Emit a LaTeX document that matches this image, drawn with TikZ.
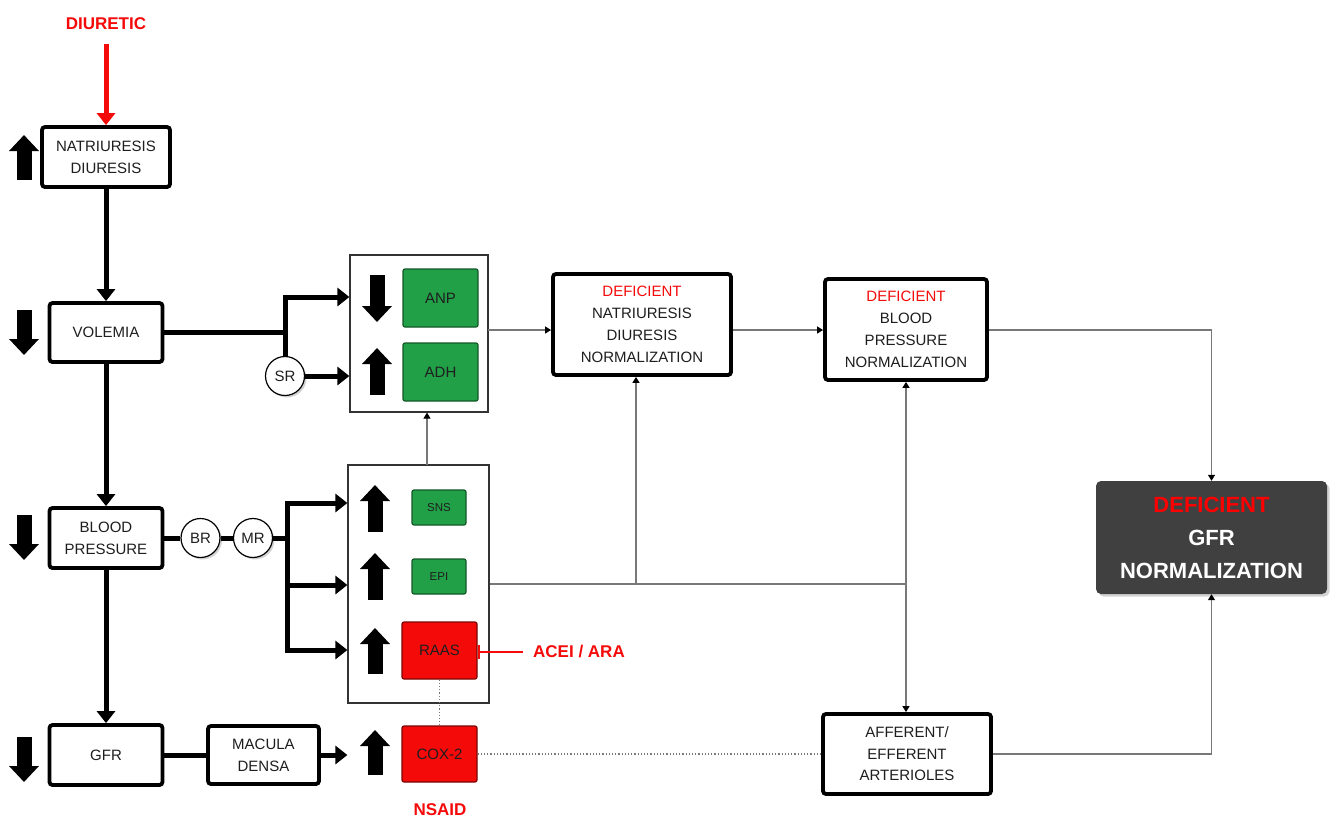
\documentclass[tikz,border=0pt]{standalone}
\usepackage{fontspec}
\setmainfont{Liberation Sans}
\usetikzlibrary{positioning,arrows.meta,shadows}

\definecolor{txt}{RGB}{30,30,30}
\definecolor{grn}{RGB}{34,160,72}
\definecolor{rd}{RGB}{245,10,10}
\definecolor{drk}{RGB}{64,64,64}
\definecolor{lnk}{RGB}{120,120,120}

\begin{document}
\begin{tikzpicture}[x=1pt,y=-1pt,font=\fontsize{15}{22}\selectfont,
  box/.style={draw=black,line width=3.8pt,rounded corners=3pt,fill=white,align=center,inner sep=0pt,text=txt},
  grpbox/.style={draw=black!80,line width=1.2pt,inner sep=0pt},
  gbox/.style={draw=grn!55!black,line width=1.2pt,rounded corners=2pt,fill=grn,inner sep=0pt,text=txt},
  rbox/.style={draw=rd!50!black,line width=1.2pt,rounded corners=2pt,fill=rd,inner sep=0pt,text=txt},
  circ/.style={circle,draw=black,line width=1.2pt,fill=white,minimum size=39pt,inner sep=0pt,text=txt,
    drop shadow={shadow xshift=2pt,shadow yshift=-2pt,opacity=0.35}},
  redlbl/.style={text=rd,font=\fontsize{17}{20}\selectfont\bfseries,inner sep=0pt},
  thk/.style={line width=5pt},
  thkarr/.style={line width=5pt,-{Triangle[width=18pt,length=12pt]}},
  blk/.style={line width=15pt,-{Triangle[width=29pt,length=16pt]}},
  thinln/.style={draw=lnk,line width=1.2pt},
  thinarr/.style={draw=lnk,line width=1.2pt,-{Triangle[width=7pt,length=6pt,color=black]}},
  dotln/.style={draw=lnk,line width=1.2pt,dotted}]
  \useasboundingbox (0,0) rectangle (1334,820);

  % left column
  \node[redlbl] (diur) at (106,24) {DIURETIC};
  \node[box,minimum width=128pt,minimum height=60pt] (natr) at (106,157) {NATRIURESIS\\DIURESIS};
  \node[box,minimum width=113pt,minimum height=59pt] (vol) at (106,332.5) {VOLEMIA};
  \node[box,minimum width=113pt,minimum height=60pt] (bp) at (106,538) {BLOOD\\PRESSURE};
  \node[box,minimum width=113pt,minimum height=60pt] (gfr) at (106,755) {GFR};
  \node[box,minimum width=111pt,minimum height=58pt] (mac) at (263.5,755) {MACULA\\DENSA};

  \node[circ] (sr) at (285,376) {SR};
  \node[circ] (br) at (200.5,538) {BR};
  \node[circ] (mr) at (253,538) {MR};

  % hormone groups
  \node[grpbox,minimum width=138pt,minimum height=157pt] (grp1) at (419,333.5) {};
  \node[gbox,minimum width=75pt,minimum height=58pt] (anp) at (440.5,298) {ANP};
  \node[gbox,minimum width=75pt,minimum height=58pt] (adh) at (440.5,372) {ADH};

  \node[grpbox,minimum width=141pt,minimum height=238pt] (grp2) at (418.5,584) {};
  \node[gbox,minimum width=54pt,minimum height=35pt,font=\fontsize{11.5}{14}\selectfont] (sns) at (439,507.5) {SNS};
  \node[gbox,minimum width=54pt,minimum height=35pt,font=\fontsize{11.5}{14}\selectfont] (epi) at (439,576.5) {EPI};
  \node[rbox,minimum width=75pt,minimum height=57pt] (raas) at (439.5,650.5) {RAAS};
  \node[rbox,minimum width=75pt,minimum height=56pt] (cox) at (439.5,754) {COX-2};
  \node[redlbl] (acei) at (579,652) {ACEI / ARA};
  \node[redlbl] (nsaid) at (440,810) {NSAID};

  % outcome boxes
  \node[box,minimum width=178pt,minimum height=101pt] (dnat) at (642,324.5)
    {\textcolor{rd}{DEFICIENT}\\NATRIURESIS\\DIURESIS\\NORMALIZATION};
  \node[box,minimum width=162pt,minimum height=101pt] (dbp) at (906,329.5)
    {\textcolor{rd}{DEFICIENT}\\BLOOD\\PRESSURE\\NORMALIZATION};
  \node[box,minimum width=168pt,minimum height=80pt,font=\fontsize{15}{21.5}\selectfont] (aff) at (907,754)
    {AFFERENT/\\EFFERENT\\ARTERIOLES};
  \node[fill=drk,rounded corners=5pt,minimum width=231pt,minimum height=113pt,inner sep=0pt,align=center,
    text=white,font=\fontsize{22}{33}\selectfont\bfseries,
    drop shadow={shadow xshift=2.5pt,shadow yshift=-2.5pt,opacity=0.35}] (gfrn) at (1211.5,537.5)
    {\textcolor{red}{DEFICIENT}\\GFR\\NORMALIZATION};

  % up / down markers
  \draw[blk] (24,180) -- (24,135);
  \draw[blk] (24,310) -- (24,355);
  \draw[blk] (24,515) -- (24,560);
  \draw[blk] (24,737) -- (24,782);
  \draw[blk] (377,275) -- (377,322);
  \draw[blk] (377,395) -- (377,348);
  \draw[blk] (375,532) -- (375,485);
  \draw[blk] (375,600) -- (375,553);
  \draw[blk] (375,674) -- (375,628);
  \draw[blk] (375,775) -- (375,730);

  % thick connectors
  \draw[thkarr,draw=rd,shorten <=14pt] (diur) -- (natr);
  \draw[thkarr] (natr) -- (vol);
  \draw[thkarr] (vol) -- (bp);
  \draw[thkarr] (bp) -- (gfr);

  \coordinate (v1) at (285,332.5);
  \coordinate (v2) at (285,297);
  \draw[thk] (vol) -- (v1);
  \draw[thkarr] (v1) -- (v2) -- (v2 -| grp1.west);
  \draw[thk] (v1) -- (sr);
  \draw[thkarr] (sr) -- (sr -| grp1.west);

  \coordinate (m1) at (287,538);
  \coordinate (m2) at (287,503);
  \coordinate (m3) at (287,585);
  \coordinate (m4) at (287,650);
  \draw[thk] (bp) -- (br);
  \draw[thk] (br) -- (mr);
  \draw[thk] (mr) -- (m1);
  \draw[thkarr] (m1) -- (m2) -- (m2 -| grp2.west);
  \draw[thkarr] (m1) -- (m4) -- (m4 -| grp2.west);
  \draw[thkarr] (m3) -- (m3 -| grp2.west);

  \draw[thk] (gfr) -- (mac);
  \draw[thkarr] (mac) -- (mac -| grp2.west);

  % thin connectors
  \coordinate (a1) at (488,330);
  \coordinate (g2top) at (427,465);
  \coordinate (j1) at (636,584);
  \coordinate (j2) at (906,584);
  \draw[thinarr] (a1) -- (a1 -| dnat.west);
  \draw[thinarr] (dnat.east |- a1) -- (a1 -| dbp.west);
  \draw[thinarr] (dbp.east |- a1) -| (gfrn.north);
  \draw[thinarr] (g2top) -- (g2top |- grp1.south);
  \draw[thinln] (grp2.east) -- (j2);
  \draw[thinarr] (j1) -- (j1 |- dnat.south);
  \draw[thinarr] (j2) -- (j2 |- dbp.south);
  \draw[thinarr] (j2) -- (j2 |- aff.north);
  \draw[thinarr] (aff.east) -| (gfrn.south);
  \draw[dotln] (raas) -- (cox);
  \draw[dotln] (cox) -- (aff);
  \draw[draw=rd,line width=2.5pt,shorten <=10pt,-{Bar[width=14pt,line width=2.5pt]}] (acei.west) -- (acei.west -| raas.east);
\end{tikzpicture}
\end{document}
